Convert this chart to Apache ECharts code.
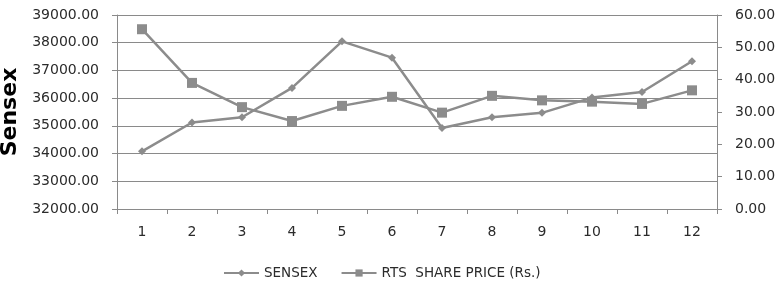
<!DOCTYPE html>
<html>
<head>
<meta charset="utf-8">
<script src="https://cdn.jsdelivr.net/npm/echarts@6/dist/echarts.min.js"></script>
<style>
  html, body { margin: 0; padding: 0; background: #fff; }
  #chart { width: 781px; height: 281px; }
</style>
</head>
<body>
<div id="chart"></div>
<script>
// months 1..12
var months = ['1', '2', '3', '4', '5', '6', '7', '8', '9', '10', '11', '12'];
var sensex = [34080, 35120, 35310, 36370, 38050, 37460, 34920, 35310, 35470, 36020, 36220, 37330];
var rtsPrice = [55.6, 39.0, 31.5, 27.2, 31.9, 34.7, 29.8, 35.0, 33.6, 33.2, 32.5, 36.7];

var lineGray = '#8c8c8c';
var gridGray = '#8a8a8a';
var txt = '#2b2b2b';
var font = 'DejaVu Sans';

var myChart = echarts.init(document.getElementById('chart'));
var option = {
    animation: false,
    grid: { left: 117, right: 64, top: 15, bottom: 72, outerBoundsMode: 'none', containLabel: false },
    legend: {
        top: 261,
        left: 218,
        itemGap: 23,
        itemWidth: 35,
        itemHeight: 9,
        textStyle: { color: txt, fontFamily: font, fontSize: 13.5 },
        data: ['SENSEX', 'RTS  SHARE PRICE (Rs.)']
    },
    xAxis: {
        type: 'category',
        data: months,
        boundaryGap: true,
        axisLine: { lineStyle: { color: gridGray, width: 1 } },
        axisTick: { show: true, length: 5, lineStyle: { color: gridGray } },
        axisLabel: { color: txt, fontFamily: font, fontSize: 14, margin: 16 }
    },
    yAxis: [{
        type: 'value',
        name: 'Sensex',
        nameLocation: 'middle',
        nameGap: 87,
        nameTextStyle: { color: '#000', fontFamily: 'DejaVu Sans', fontSize: 22, fontWeight: 'bold' },
        min: 32000,
        max: 39000,
        interval: 1000,
        axisLine: { show: true, lineStyle: { color: gridGray } },
        axisTick: { show: true, length: 5, lineStyle: { color: gridGray } },
        axisLabel: { color: txt, fontFamily: font, fontSize: 14, margin: 18,
            formatter: function (v) { return v.toFixed(2); } },
        splitLine: { lineStyle: { color: gridGray, width: 1 } }
    }, {
        type: 'value',
        min: 0,
        max: 60,
        interval: 10,
        position: 'right',
        axisLine: { show: true, lineStyle: { color: gridGray } },
        axisTick: { show: true, length: 5, lineStyle: { color: gridGray } },
        axisLabel: { color: txt, fontFamily: font, fontSize: 14, margin: 18,
            formatter: function (v) { return v.toFixed(2); } },
        splitLine: { show: false }
    }],
    series: [{
        name: 'SENSEX',
        type: 'line',
        yAxisIndex: 0,
        data: sensex,
        symbol: 'diamond',
        symbolSize: 8,
        lineStyle: { color: lineGray, width: 2.5 },
        itemStyle: { color: lineGray }
    }, {
        name: 'RTS  SHARE PRICE (Rs.)',
        type: 'line',
        yAxisIndex: 1,
        data: rtsPrice,
        symbol: 'rect',
        symbolSize: 10,
        lineStyle: { color: lineGray, width: 2.5 },
        itemStyle: { color: lineGray }
    }]
};
myChart.setOption(option);
</script>
</body>
</html>
